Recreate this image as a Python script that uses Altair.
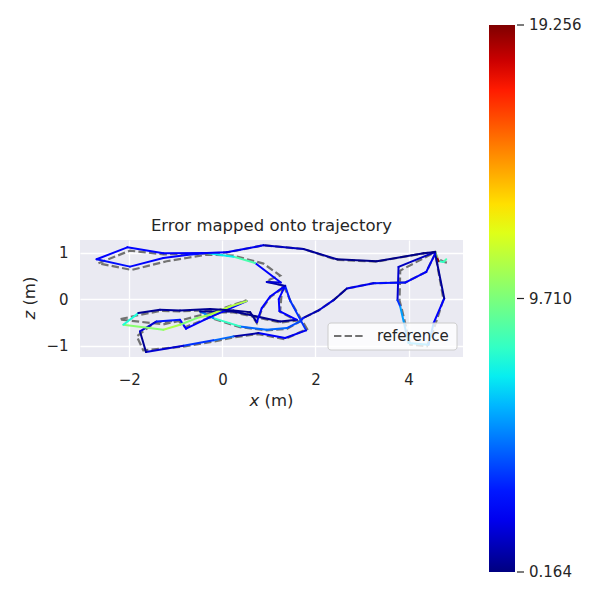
import altair as alt
import pandas as pd

# Estimated trajectory (x, z in metres) and APE per point
est_x = [4.810, 4.753, 4.645, 4.609, 4.573, 3.785, 3.763, 3.821, 4.000, 4.430,
         4.538, 4.767, 4.573, 4.380, 3.928, 3.247, 2.674, 2.387, 2.065, 1.742,
         1.670, 1.384, 0.953, 0.380, -0.194, -0.480, 0.237, 1.240, 1.599, 1.226,
         1.211, 1.348, 1.455, 1.799, 1.348, 0.774, 0.237, -0.194, -0.839, -1.642,
         -1.771, -1.412, -0.910, -0.781, -0.265, 0.523, 0.165, -0.265, -0.552, -0.910,
         -1.269, -2.129, -1.806, -1.341, -0.910, -0.265, 0.237, 0.595, 0.738, 0.846,
         1.025, 1.348, 0.953, 1.254, 0.703, 0.237, -0.337, -0.767, -1.269, -1.986,
         -2.703, -2.043, -1.269, -0.337, 0.093, 0.882, 1.742, 2.459, 3.319, 4.323,
         4.573]
est_z = [0.864, 0.806, 0.821, 0.914, 1.022, 0.699, -0.018, -0.154, -0.943, -0.978,
         -0.513, 0.018, 0.986, 0.591, 0.362, 0.348, 0.233, -0.018, -0.240, -0.398,
         -0.477, -0.620, -0.656, -0.584, -0.405, -0.262, -0.262, -0.477, -0.441, -0.254,
         0.004, 0.290, -0.025, -0.670, -0.835, -0.728, -0.799, -0.885, -1.000, -1.136,
         -0.692, -0.477, -0.441, -0.634, -0.384, -0.039, -0.154, -0.333, -0.405, -0.548,
         -0.656, -0.548, -0.297, -0.226, -0.240, -0.211, -0.240, -0.276, -0.491, -0.190,
         0.061, 0.290, 0.376, 0.362, 0.785, 0.921, 1.000, 0.957, 0.892, 0.706,
         0.864, 1.122, 0.993, 1.000, 1.014, 1.165, 1.086, 0.864, 0.821, 0.993,
         1.022]
est_err = [8.5, 8.0, 19.0, 10.5, 1.2, 1.5, 3.5, 5.5, 6.0, 5.0,
           2.5, 0.6, 2.0, 2.3, 2.8, 2.0, 0.6, 1.5, 1.0, 3.0,
           4.0, 4.5, 4.5, 8.0, 5.0, 0.5, 0.4, 0.4, 2.5, 2.5,
           2.5, 3.0, 3.5, 2.0, 2.2, 0.8, 4.5, 3.5, 1.5, 0.5,
           1.5, 3.0, 2.5, 2.5, 2.5, 11.0, 11.0, 10.5, 9.8, 10.8,
           10.0, 7.5, 0.5, 0.6, 0.5, 0.4, 0.4, 0.4, 2.0, 2.5,
           2.3, 0.8, 1.5, 2.5, 8.5, 7.0, 2.8, 2.5, 2.6, 2.8,
           2.5, 2.6, 2.5, 2.2, 2.0, 1.2, 0.6, 0.3, 0.3, 0.3,
           0.3]

# Reference trajectory
ref_x = [4.824, 4.767, 4.681, 4.609, 4.573, 3.821, 3.806, 3.850, 4.036, 4.394,
         4.538, 4.750, 4.573, 4.380, 3.928, 3.247, 2.674, 2.387, 2.065, 1.742,
         1.670, 1.384, 0.953, 0.380, -0.194, -0.480, 0.237, 1.240, 1.599, 1.240,
         1.270, 1.300, 1.470, 1.820, 1.340, 0.770, 0.240, -0.190, -0.840, -1.700,
         -1.840, -1.450, -0.950, -0.800, -0.280, 0.520, 0.170, -0.260, -0.550, -0.910,
         -1.270, -2.215, -1.842, -1.340, -0.910, -0.270, 0.240, 0.600, 0.740, 0.850,
         1.030, 1.350, 0.950, 1.240, 0.882, 0.237, -0.337, -0.767, -1.197, -1.950,
         -2.667, -1.986, -1.269, -0.337, 0.093, 0.882, 1.742, 2.459, 3.319, 4.323,
         4.573]
ref_z = [0.792, 0.806, 0.849, 0.914, 1.022, 0.620, -0.025, -0.190, -0.978, -1.014,
         -0.656, 0.000, 0.986, 0.591, 0.362, 0.348, 0.233, -0.018, -0.240, -0.398,
         -0.477, -0.640, -0.670, -0.600, -0.420, -0.280, -0.280, -0.500, -0.460, -0.270,
         0.090, 0.330, -0.050, -0.640, -0.860, -0.750, -0.820, -0.910, -1.020, -1.100,
         -0.800, -0.500, -0.460, -0.600, -0.390, -0.020, -0.140, -0.300, -0.360, -0.460,
         -0.540, -0.434, -0.348, -0.250, -0.260, -0.230, -0.260, -0.300, -0.510, -0.210,
         0.050, 0.280, 0.400, 0.513, 0.771, 0.943, 0.964, 0.892, 0.821, 0.634,
         0.778, 1.050, 0.970, 0.990, 1.010, 1.165, 1.086, 0.850, 0.815, 0.993,
         1.022]

err_min, err_max, err_mid = 0.164, 19.256, 9.710
cbar_labels = ["19.256", "9.710", "0.164"]

# jet colormap stops
jet_f = [0, 0.11, 0.125, 0.34, 0.35, 0.375, 0.64, 0.65, 0.66, 0.89, 0.91, 1.0]
jet_c = ["#000080", "#0000ff", "#0000ff", "#00dbff", "#00e6f7", "#15ffe2",
         "#efff08", "#f7f500", "#ffec00", "#ff1300", "#e80000", "#800000"]
jet_domain = [err_min + f * (err_max - err_min) for f in jet_f]

seg_df = pd.DataFrame({
    "x": est_x[:-1], "y": est_z[:-1],
    "x2": est_x[1:], "y2": est_z[1:],
    "err": est_err[:-1],
})
ref_df = pd.DataFrame({"idx": list(range(len(ref_x))), "x": ref_x, "z": ref_z})

xs = alt.Scale(domain=[-3.06, 5.17], nice=False, zero=False)
ys = alt.Scale(domain=[-1.244, 1.28], nice=False, zero=False)

FONT = "DejaVu Sans"
TXT = "#262626"
one = pd.DataFrame({"a": [0]})

segs = alt.Chart(seg_df).mark_rule(strokeWidth=2, strokeCap="round").encode(
    x=alt.X("x:Q", scale=xs, axis=alt.Axis(values=[-2, 0, 2, 4], title="")),
    y=alt.Y("y:Q", scale=ys, axis=alt.Axis(values=[-1, 0, 1], title="")),
    x2="x2:Q",
    y2="y2:Q",
    color=alt.Color(
        "err:Q",
        scale=alt.Scale(domain=jet_domain, range=jet_c, interpolate="rgb"),
        legend=alt.Legend(
            orient="none", legendX=409, legendY=-215, direction="vertical",
            gradientLength=547, gradientThickness=26, gradientStrokeWidth=0,
            labelOpacity=0, padding=0, title=None,
        ),
    ),
)

ref = alt.Chart(ref_df).mark_line(strokeWidth=2.2, color="#727272",
                                   strokeDash=[7.4, 3.2]).encode(
    x="x:Q", y="z:Q", order="idx:Q")

# legend box for the reference line
leg_box = alt.Chart(one).mark_rect(
    fill="white", fillOpacity=0.8, stroke="#cccccc", strokeWidth=1, cornerRadius=3
).encode(x=alt.value(248), x2=alt.value(377), y=alt.value(83), y2=alt.value(110))
leg_line = alt.Chart(one).mark_rule(color="#727272", strokeWidth=2.2,
                                     strokeDash=[7.4, 3.2]).encode(
    x=alt.value(254), x2=alt.value(285), y=alt.value(96), y2=alt.value(96))
leg_text = alt.Chart(one).mark_text(
    text="reference", font=FONT, fontSize=15, color=TXT, align="left",
    baseline="middle").encode(x=alt.value(297), y=alt.value(96))

title = alt.Chart(one).mark_text(
    text="Error mapped onto trajectory", font=FONT, fontSize=16.5, color=TXT,
    align="center", baseline="middle").encode(x=alt.value(191.5), y=alt.value(-14))

# axis titles with italic variable names
xt_var = alt.Chart(one).mark_text(
    text="x", font=FONT, fontSize=16.5, fontStyle="italic", color=TXT,
    align="left", baseline="middle").encode(x=alt.value(169.5), y=alt.value(161))
xt_unit = alt.Chart(one).mark_text(
    text="(m)", font=FONT, fontSize=16.5, color=TXT,
    align="left", baseline="middle").encode(x=alt.value(184.5), y=alt.value(161))
yt_var = alt.Chart(one).mark_text(
    text="z", font=FONT, fontSize=16.5, fontStyle="italic", color=TXT, angle=270,
    align="left", baseline="middle").encode(x=alt.value(-50), y=alt.value(79.5))
yt_unit = alt.Chart(one).mark_text(
    text="(m)", font=FONT, fontSize=16.5, color=TXT, angle=270,
    align="left", baseline="middle").encode(x=alt.value(-50), y=alt.value(65.6))

cb_ticks = [
    alt.Chart(one).mark_rule(color=TXT, strokeWidth=1.2).encode(
        x=alt.value(437), x2=alt.value(444), y=alt.value(yy), y2=alt.value(yy))
    for yy in (-215, 58.5, 332)
]
cb_text = [
    alt.Chart(one).mark_text(text=lab, font=FONT, fontSize=15, color=TXT,
                             align="left", baseline="middle").encode(
        x=alt.value(449), y=alt.value(yy))
    for lab, yy in zip(cbar_labels, (-215, 58.5, 332))
]

chart = alt.layer(ref, segs, leg_box, leg_line, leg_text, title,
                  xt_var, xt_unit, yt_var, yt_unit,
                  *cb_ticks, *cb_text).properties(
    width=383, height=117,
    autosize=alt.AutoSizeParams(type="none"),
    padding={"left": 72, "top": 232, "right": 129, "bottom": 235},
).configure_view(fill="#EAEAF2", stroke=None).configure_axis(
    domain=False, ticks=False, tickSize=0, grid=True, gridColor="white", gridWidth=1.3,
    labelFont=FONT, labelFontSize=15, labelColor=TXT,
).configure_axisX(labelPadding=15).configure_axisY(labelPadding=12)

chart.save("out.html", embed_options={"renderer": "svg", "actions": False})
